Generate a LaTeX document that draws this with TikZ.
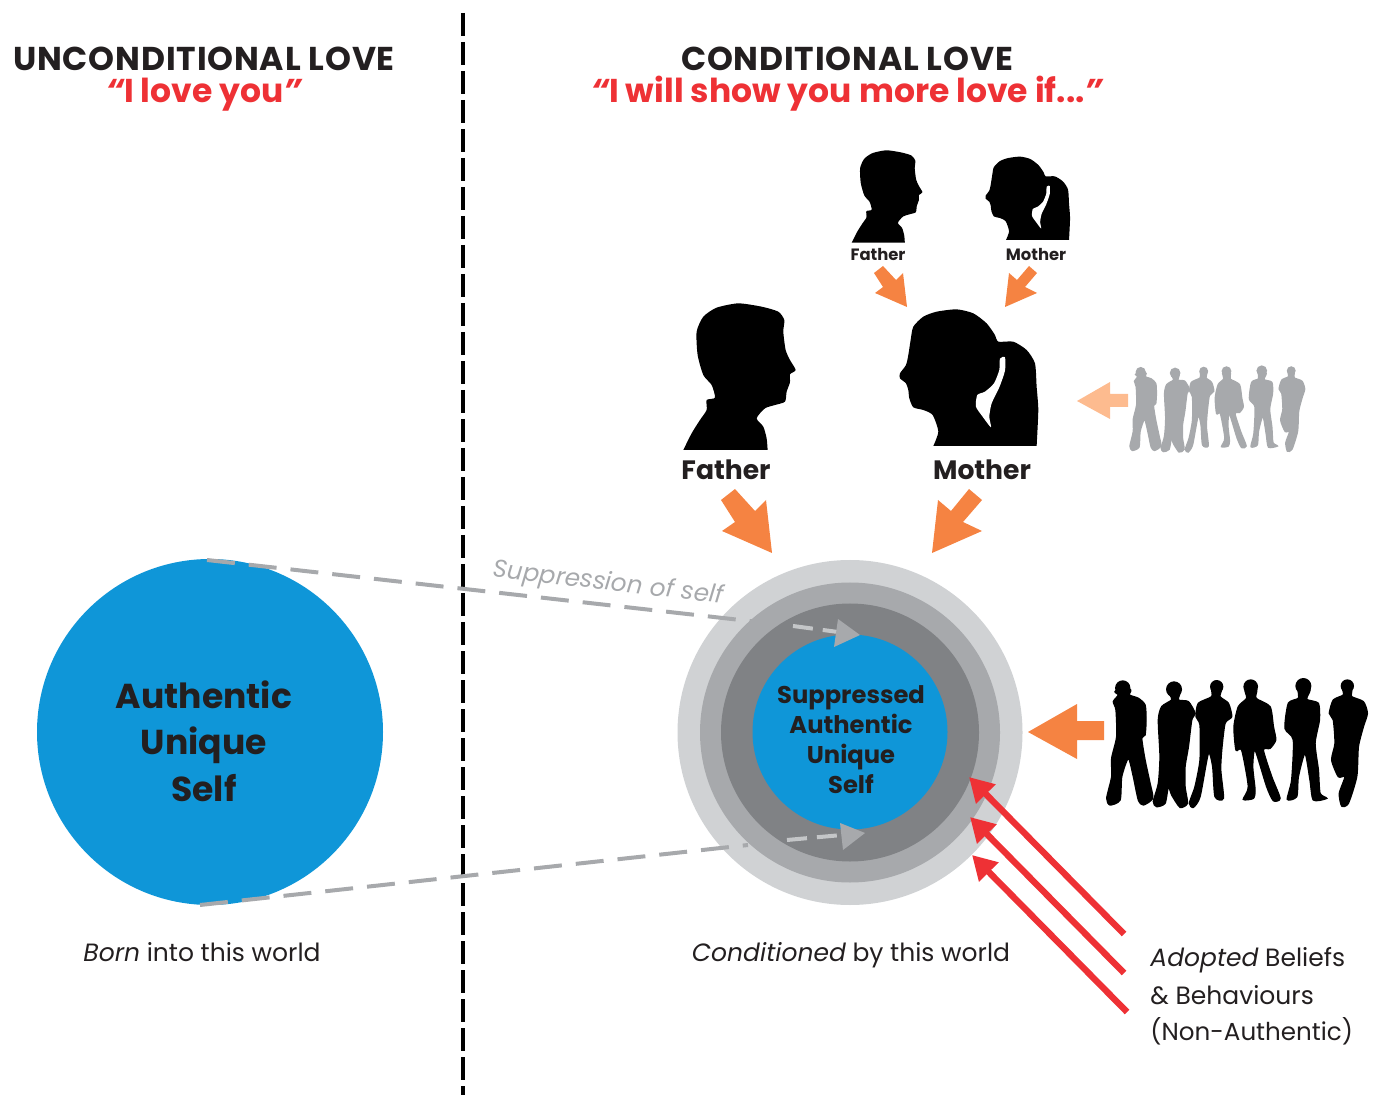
\documentclass[tikz,border=0pt]{standalone}
\usepackage{fontspec}
\setmainfont{Poppins}
\usetikzlibrary{arrows.meta}
\definecolor{selfblue}{HTML}{0F96D8}
\definecolor{ringa}{HTML}{D0D2D4}
\definecolor{ringb}{HTML}{A7A9AC}
\definecolor{ringc}{HTML}{808285}
\definecolor{ringlight}{HTML}{C4C6C8}
\definecolor{lovered}{HTML}{EE3135}
\definecolor{orangearrow}{HTML}{F58342}
\definecolor{orangepale}{HTML}{FDBB8F}
\definecolor{inkdark}{HTML}{231F20}
\tikzset{
  headline/.style={inner sep=0pt,anchor=base,font=\fontsize{16.5}{18}\selectfont\bfseries\addfontfeature{LetterSpace=2.5},text=inkdark},
  redline/.style={inner sep=0pt,anchor=base,font=\fontsize{16.5}{18}\selectfont\bfseries,text=lovered},
  bigself/.style={inner sep=0pt,anchor=base,font=\fontsize{17.3}{20}\selectfont\bfseries,text=inkdark},
  smallself/.style={inner sep=0pt,anchor=base,font=\fontsize{12.1}{15}\selectfont\bfseries,text=inkdark},
  parentbig/.style={inner sep=0pt,anchor=base,font=\fontsize{13.3}{15}\selectfont\bfseries,text=inkdark},
  parentsmall/.style={inner sep=0pt,anchor=base,font=\fontsize{8.2}{9}\selectfont\bfseries,text=inkdark},
  caption/.style={inner sep=0pt,anchor=base,font=\fontsize{12.5}{15}\selectfont,text=inkdark},
  graydash/.style={draw=ringb,line width=2pt,dash pattern=on 14pt off 7pt},
  lightdash/.style={draw=ringlight,line width=2pt,dash pattern=on 10pt off 5pt},
  redarrow/.style={draw=lovered,line width=3.2pt,-{Triangle[length=12pt,width=13pt]}},
  fatherhead/.pic={\begin{scope}[scale=0.3333,shift={(-25,-465)}]
    \fill plot[smooth,tension=.4] coordinates {(25,465)(50,415)(75,375)(95,345)(95,315)(120,308)(110,270)(85,240)(68,180)(65,110)(85,65)(125,38)(190,25)(260,35)(310,50)(328,75)(325,110)(332,165)(345,195)(362,225)(345,238)(345,262)(335,290)(330,320)(300,330)(270,340)(245,370)(265,395)(275,430)(278,465)} -- cycle;
  \end{scope}},
  motherhead/.pic={\begin{scope}[scale=0.3333,shift={(-130,-438)}]
    \fill plot[smooth,tension=.4] coordinates {(130,438)(145,395)(128,345)(100,330)(70,322)(58,295)(55,270)(48,250)(30,235)(30,220)(48,195)(55,165)(62,120)(70,80)(100,50)(140,35)(200,28)(250,40)(290,70)(315,105)(325,125)(370,125)(410,150)(435,190)(440,260)(445,330)(440,438)} -- cycle;
    \fill[white] plot[smooth cycle,tension=.4] coordinates {(345,172)(330,176)(328,210)(312,250)(285,275)(262,285)(258,320)(278,350)(303,382)(298,350)(305,310)(328,262)(345,212)};
  \end{scope}},
  crowd/.pic={\begin{scope}[scale=0.3333,shift={(-20,-30)},line width=.7pt]
    \filldraw[#1] plot[smooth cycle,tension=.4] coordinates {(45,65)(68,45)(92,60)(88,75)(115,85)(135,105)(138,150)(135,195)(125,205)(135,270)(150,340)(158,385)(130,405)(115,390)(100,320)(85,265)(65,320)(60,390)(30,405)(20,385)(35,320)(35,265)(50,200)(48,120)(40,95)(55,75)};
    \filldraw[#1] plot[smooth cycle,tension=.4] coordinates {(205,65)(222,50)(240,65)(235,90)(265,95)(285,130)(275,150)(265,230)(255,290)(255,350)(262,400)(240,412)(215,375)(205,350)(195,400)(170,410)(160,395)(175,340)(180,260)(175,150)(185,110)(215,90)(210,75)};
    \filldraw[#1] plot[smooth cycle,tension=.4] coordinates {(335,55)(350,40)(365,55)(360,80)(385,100)(395,140)(375,160)(365,240)(362,300)(370,385)(345,380)(338,290)(325,250)(300,380)(280,412)(268,400)(285,350)(300,270)(300,165)(288,140)(295,100)(335,80)};
    \fill[#1] (68,54) circle[radius=23] (222,58) circle[radius=24] (350,50) circle[radius=20];
  \end{scope}
  \begin{scope}[scale=0.3333,shift={(370,-30)},line width=.7pt]
    \filldraw[#1] plot[smooth cycle,tension=.4] coordinates {(45,60)(62,45)(80,60)(78,85)(120,110)(130,170)(137,210)(120,235)(100,240)(125,320)(150,385)(130,392)(110,350)(75,240)(68,290)(75,360)(70,385)(40,388)(55,350)(35,240)(18,240)(12,170)(25,110)(50,85)};
    \filldraw[#1] plot[smooth cycle,tension=.4] coordinates {(205,60)(220,45)(240,60)(230,88)(265,100)(268,150)(255,220)(265,300)(270,370)(290,385)(250,390)(240,330)(225,250)(205,320)(200,380)(172,388)(185,330)(190,210)(165,175)(175,100)(205,85)};
    \filldraw[#1] plot[smooth cycle,tension=.4] coordinates {(338,55)(352,45)(365,60)(365,80)(400,95)(412,130)(400,170)(385,230)(380,320)(355,400)(335,408)(328,370)(345,320)(325,320)(305,270)(315,220)(310,150)(298,130)(310,90)(340,75)};
    \fill[#1] (62,50) circle[radius=22] (220,48) circle[radius=24] (352,48) circle[radius=20];
  \end{scope}}
}
\begin{document}
\begin{tikzpicture}[x=0.5pt,y=-0.5pt]
\useasboundingbox (0,0) rectangle (1380,1095);
% divider
\coordinate (divtop) at (463,13);
\coordinate (divbot) at (463,1095);
\draw[black,line width=1.8pt,dash pattern=on 11.5pt off 3pt] (divtop) -- (divbot);
% titles
\node[headline] (tleft) at (204,71) {UNCONDITIONAL LOVE};
\node[redline] (sleft) at (204,103) {{\itshape “}I love you{\itshape ”}};
\node[headline] (tright) at (847,71) {CONDITIONAL LOVE};
\node[redline] (sright) at (847,103) {{\itshape “}I will show you more love if...{\itshape ”}};
% circles
\node[circle,fill=selfblue,minimum size=173pt,inner sep=0pt] (authentic) at (210,732) {};
\node[circle,fill=ringa,minimum size=172.5pt,inner sep=0pt] (outer) at (850,732.5) {};
\node[circle,fill=ringb,minimum size=150pt,inner sep=0pt] (middle) at (850,732.5) {};
\node[circle,fill=ringc,minimum size=129pt,inner sep=0pt] (inner) at (850,732.5) {};
\node[circle,fill=selfblue,minimum size=97.5pt,inner sep=0pt] (suppressed) at (850,732) {};
\node[bigself] (a1) at (204,708) {Authentic};
\node[bigself] (a2) at (204,754) {Unique};
\node[bigself] (a3) at (204,801) {Self};
\node[smallself] (b1) at (851,703) {Suppressed};
\node[smallself] (b2) at (851,733) {Authentic};
\node[smallself] (b3) at (851,763) {Unique};
\node[smallself] (b4) at (851,793) {Self};
% suppression lines
\coordinate (ua) at (207,560);
\coordinate (ub) at (838,632);
\coordinate (la) at (200,905);
\coordinate (lb) at (842,835);
\draw[graydash] (ua) -- (785,625);
\draw[graydash] (la) -- (748,845);
\coordinate (uc) at (793,626);
\coordinate (lc) at (787,840);
\draw[lightdash] (uc) -- (ub);
\draw[lightdash] (lc) -- (lb);
\fill[ringb] (860,635)--(838,619)--(834,647)--cycle;
\fill[ringb] (865,833)--(840,823)--(843,850)--cycle;
\node[inner sep=0pt,rotate=-6.6,font=\fontsize{12.3}{15}\selectfont\itshape,text=ringb] (supp) at (608,584) {Suppression of self};
% parents
\pic at (683.3,450) {fatherhead};
\pic at (933.3,446) {motherhead};
\pic[scale=.63] at (851.7,242.7) {fatherhead};
\pic[scale=.61] at (1006,240) {motherhead};
\node[parentbig] (pf) at (726,480) {Father};
\node[parentbig] (pm) at (982,480) {Mother};
\node[parentsmall] (gf) at (878,261) {Father};
\node[parentsmall] (gm) at (1036,261) {Mother};
% orange block arrows
\fill[orangearrow] (883,266)--(896,280)--(903,273)--(907,307)--(875,293)--(883,287)--(874,273)--cycle;
\fill[orangearrow] (1029,266)--(1037,273)--(1025,287)--(1037,293)--(1005,307)--(1009,273)--(1017,280)--cycle;
\fill[orangearrow] (735,489)--(755,511)--(766,500)--(772,553)--(722,531)--(735,522)--(721,500)--cycle;
\fill[orangearrow] (969,489)--(982,500)--(963,522)--(982,531)--(932,553)--(938,500)--(951,511)--cycle;
\fill[orangepale] (1077,401)--(1110,382)--(1110,394)--(1128,394)--(1128,407)--(1110,407)--(1110,419)--cycle;
\fill[orangearrow] (1028,732)--(1077,704)--(1077,721)--(1104,721)--(1104,740)--(1077,740)--(1077,759)--cycle;
% crowds
\pic[scale=.67] at (1130,366.7) {crowd=ringb};
\pic at (1106.7,680) {crowd=black};
% red arrows
\coordinate (r1a) at (1124,934); \coordinate (r1b) at (969,777);
\coordinate (r2a) at (1124,973); \coordinate (r2b) at (970,817);
\coordinate (r3a) at (1127,1012); \coordinate (r3b) at (972,855);
\draw[redarrow] (r1a) -- (r1b);
\draw[redarrow] (r2a) -- (r2b);
\draw[redarrow] (r3a) -- (r3b);
% captions
\node[caption] (c1) at (202,961) {\itshape Born\upshape{} into this world};
\node[caption] (c2) at (851,961) {\itshape Conditioned\upshape{} by this world};
\node[caption,anchor=base west] (c3) at (1150,966) {\itshape Adopted\upshape{} Beliefs};
\node[caption,anchor=base west] (c4) at (1150,1004) {\& Behaviours};
\node[caption,anchor=base west,font=\fontsize{12.3}{15}\selectfont] (c5) at (1150,1040) {(Non-Authentic)};
\end{tikzpicture}
\end{document}
